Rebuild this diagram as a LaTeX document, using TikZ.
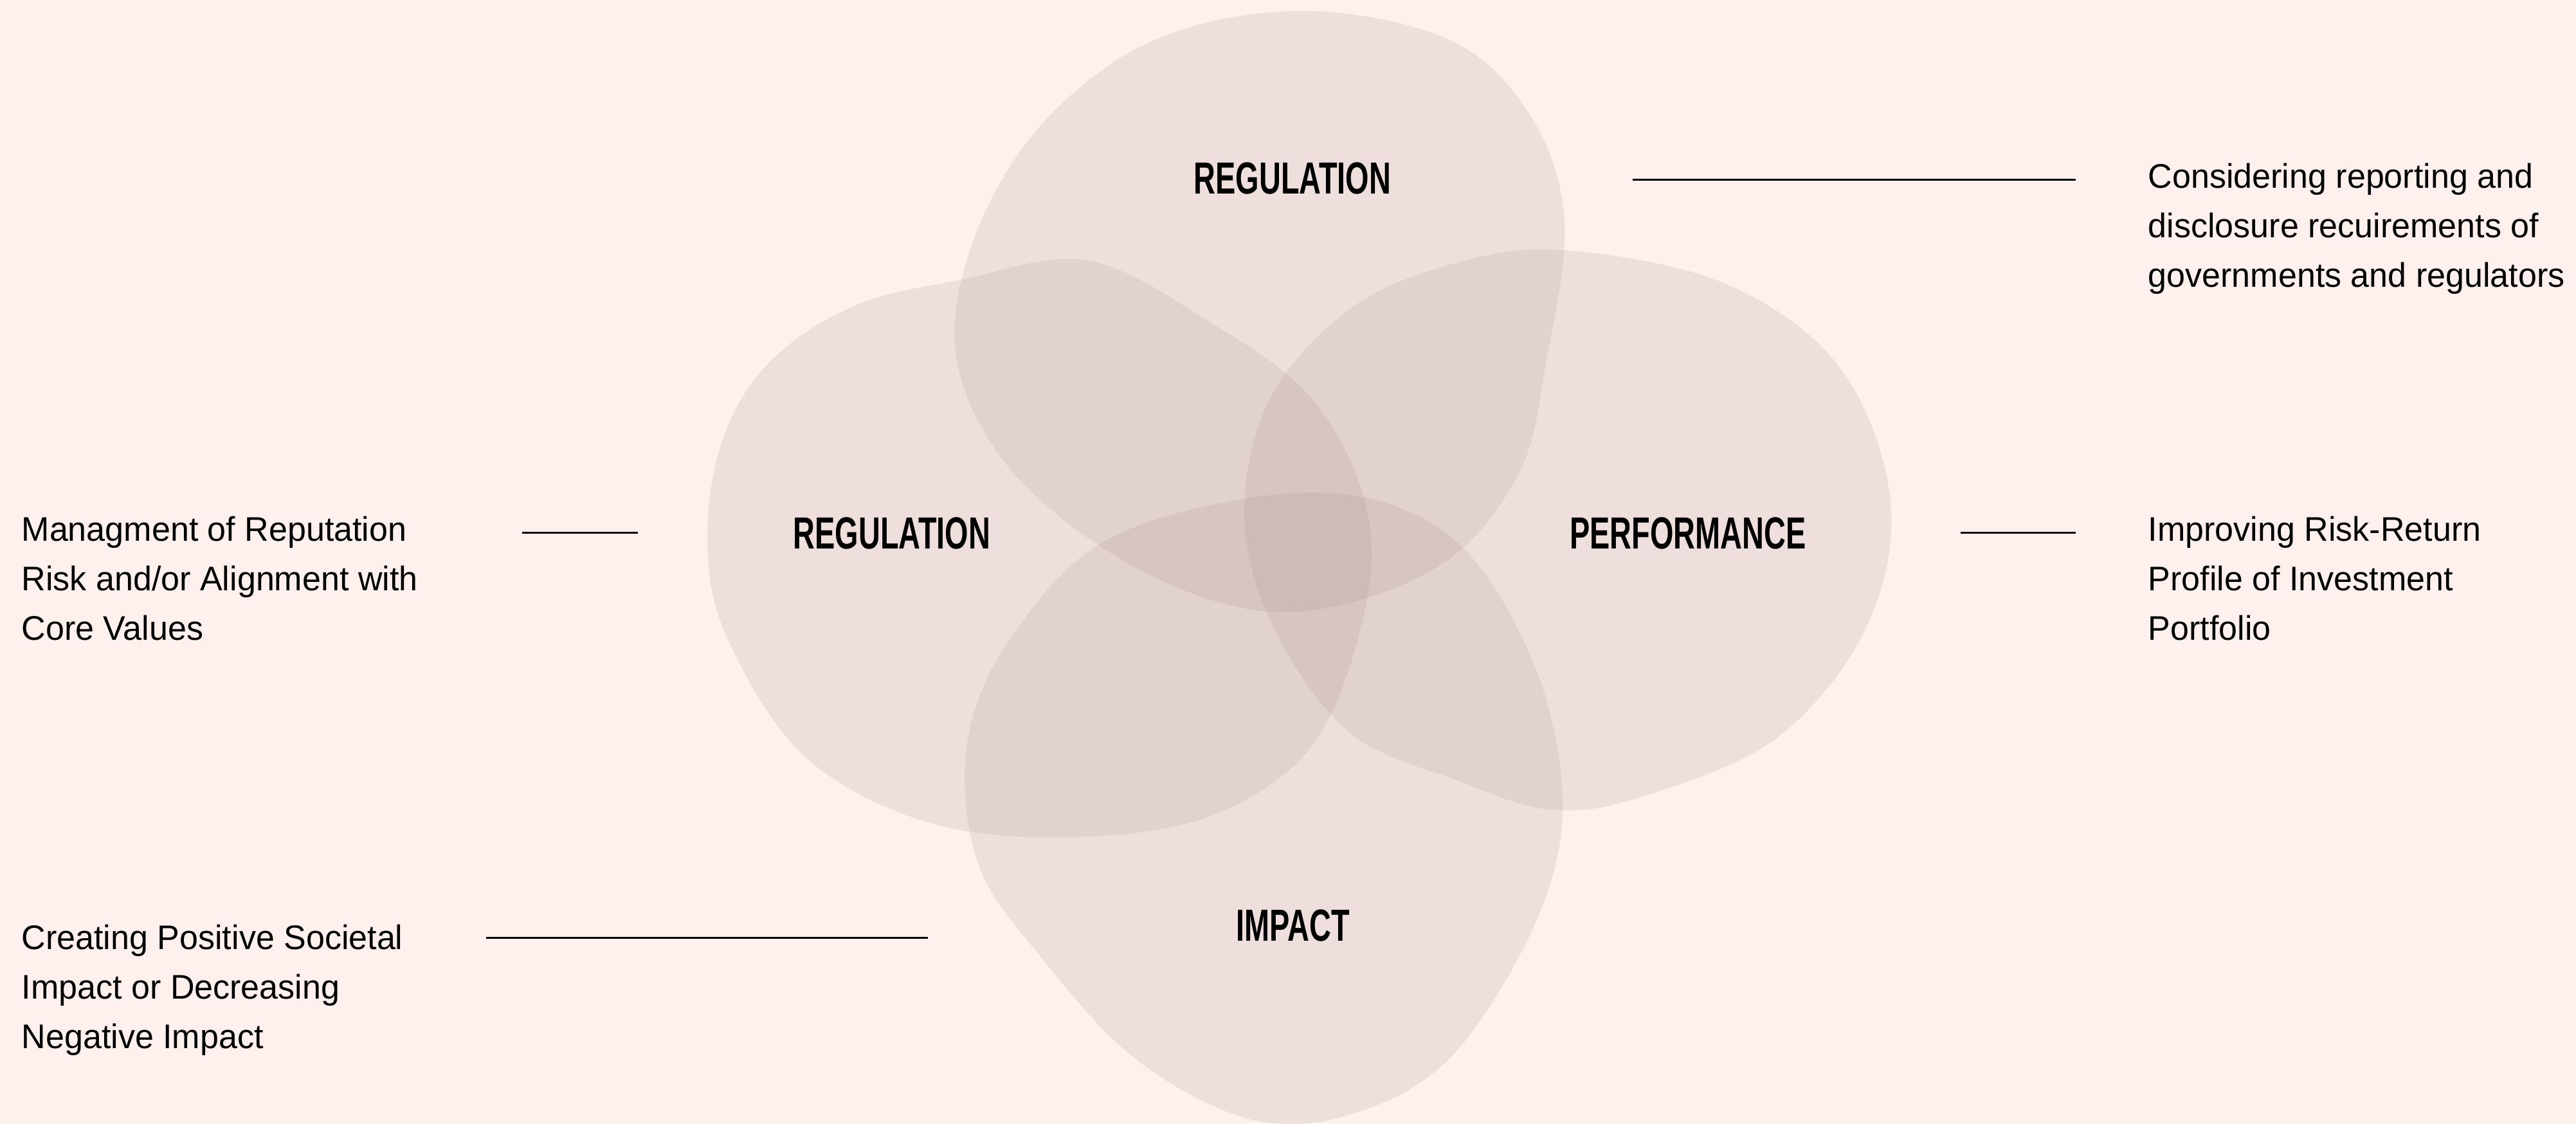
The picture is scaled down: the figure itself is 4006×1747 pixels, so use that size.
\documentclass[tikz,border=0pt]{standalone}
\usepackage{fontspec}
\newfontfamily\bodyfont{Liberation Sans}[FakeStretch=0.98]
\newfontfamily\labelfont{Liberation Sans}[FakeStretch=0.67]
\definecolor{bg}{RGB}{253,240,237}
\definecolor{blob}{RGB}{160,140,138}
\begin{document}
\begin{tikzpicture}[x=0.01cm,y=-0.01cm,
  blobshape/.style={fill=blob, fill opacity=0.16, draw=none},
  lbl/.style={font=\labelfont\bfseries\fontsize{19.9}{24}\selectfont, text=black, inner sep=0pt, anchor=center},
  body/.style={font=\bodyfont\fontsize{15.1}{21.9}\selectfont, text=black, inner sep=0pt, anchor=base west},
  leader/.style={line width=0.85pt, draw=black}]
\fill[bg] (0,0) rectangle (4006,1747);
\useasboundingbox (0,0) rectangle (4006,1747);

% blobs
\fill[blobshape] plot[smooth cycle, tension=0.6] coordinates {
 (2030,17) (2256,63) (2380,180) (2433,344) (2405,560) (2360,740) (2230,885) (2000,952)
 (1780,890) (1580,740) (1488,560) (1515,370) (1624,189) (1800,60)};
\fill[blobshape] plot[smooth cycle, tension=0.6] coordinates {
 (1690,405) (1880,500) (2040,620) (2125,790) (2120,960) (2040,1160) (1880,1270) (1660,1302)
 (1440,1278) (1250,1175) (1130,990) (1100,840) (1125,680) (1200,560) (1330,475) (1490,436)};
\fill[blobshape] plot[smooth cycle, tension=0.6] coordinates {
 (2430,389) (2680,440) (2860,570) (2940,780) (2900,980) (2760,1150) (2550,1240) (2410,1259)
 (2270,1215) (2100,1140) (1980,975) (1935,800) (1975,620) (2100,480) (2260,410)};
\fill[blobshape] plot[smooth cycle, tension=0.6] coordinates {
 (2040,766) (2250,830) (2380,1020) (2430,1240) (2390,1430) (2260,1640) (2110,1730) (1950,1742)
 (1770,1650) (1620,1490) (1520,1340) (1505,1150) (1580,980) (1740,830)};

% labels
\node[lbl] (regtop) at (2010,277) {REGULATION};
\node[lbl] (regleft) at (1387,829) {REGULATION};
\node[lbl] (perf) at (2625,829) {PERFORMANCE};
\node[lbl] (impact) at (2011,1439) {IMPACT};

% leader lines
\coordinate (t1) at (2539,279); \coordinate (t2) at (3228,279);
\coordinate (l1) at (812,828);  \coordinate (l2) at (992,828);
\coordinate (r1) at (3049,828); \coordinate (r2) at (3228,828);
\coordinate (b1) at (756,1458); \coordinate (b2) at (1443,1458);
\draw[leader] (t1) -- (t2);
\draw[leader] (l1) -- (l2);
\draw[leader] (r1) -- (r2);
\draw[leader] (b1) -- (b2);

% descriptions
\node[body] (tr1) at (3340,292) {Considering reporting and};
\node[body] (tr2) at (3340,369) {disclosure recuirements of};
\node[body] (tr3) at (3340,446) {governments and regulators};

\node[body] (lt1) at (33,841) {Managment of Reputation};
\node[body] (lt2) at (33,918) {Risk and/or Alignment with};
\node[body] (lt3) at (33,995) {Core Values};

\node[body] (rt1) at (3340,841) {Improving Risk-Return};
\node[body] (rt2) at (3340,918) {Profile of Investment};
\node[body] (rt3) at (3340,995) {Portfolio};

\node[body] (bl1) at (33,1476) {Creating Positive Societal};
\node[body] (bl2) at (33,1553) {Impact or Decreasing};
\node[body] (bl3) at (33,1630) {Negative Impact};
\end{tikzpicture}
\end{document}
